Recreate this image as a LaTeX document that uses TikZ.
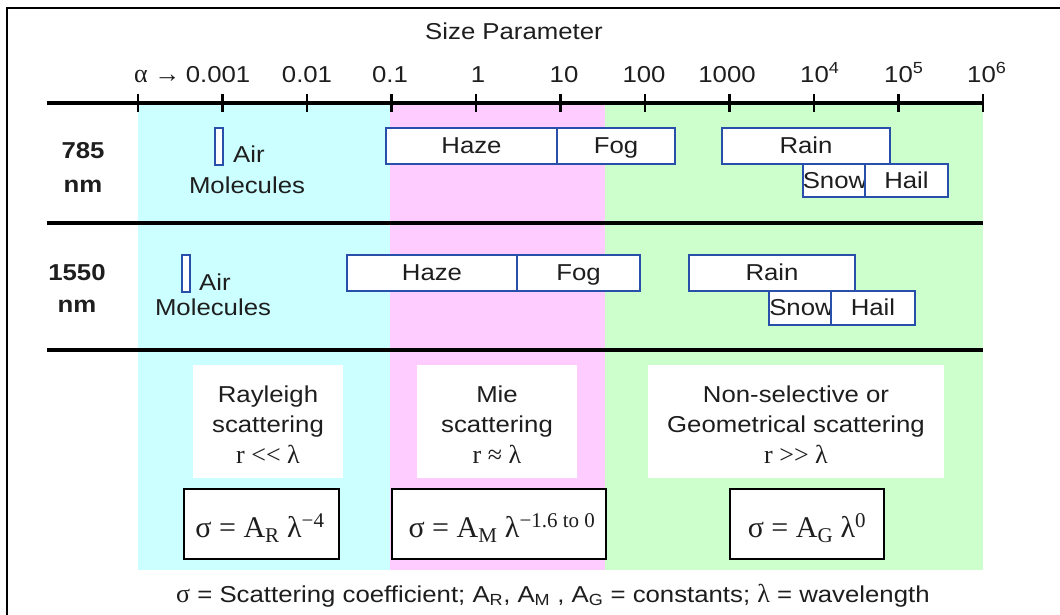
\documentclass[tikz,border=0pt]{standalone}
\usepackage{fontspec}
\usetikzlibrary{calc}
\setmainfont{Liberation Sans}[FakeStretch=1.12]
\newfontfamily\serifont{Liberation Serif}
\definecolor{cyanbg}{RGB}{204,255,255}
\definecolor{pinkbg}{RGB}{255,204,255}
\definecolor{greenbg}{RGB}{204,255,204}
\definecolor{boxblue}{RGB}{40,80,170}
\definecolor{txtgray}{RGB}{30,30,30}
\newcommand{\fsz}{\fontsize{23}{28}\selectfont}
\newcommand{\fsr}{\fontsize{26}{30}\selectfont\serifont}
\newcommand{\fml}{\fontsize{30}{34}\selectfont\serifont}
\begin{document}
\begin{tikzpicture}[x=1pt,y=-1pt,
  lbl/.style={font=\fsz, text=txtgray, inner sep=0pt, anchor=base},
  serlbl/.style={font=\fsr, text=txtgray, inner sep=0pt, anchor=base},
  rowlbl/.style={font=\fsz\bfseries, text=txtgray, inner sep=0pt, anchor=base},
  bandbox/.style={draw=boxblue, line width=1.8pt, fill=white, inner sep=0pt,
    font=\fsz, text=txtgray, text height=15pt, text depth=0pt},
  txtbox/.style={fill=white, inner sep=0pt},
  formbox/.style={draw=black, line width=2.2pt, fill=white, inner sep=0pt},
  formtxt/.style={font=\fml, text=txtgray, inner sep=0pt, anchor=base},
  axisline/.style={line width=4.5pt},
  sepline/.style={line width=4pt},
  tickmark/.style={line width=2.4pt}
]
\useasboundingbox (0,0) rectangle (1060,615);
\fill[white] (0,0) rectangle (1060,615);

% frame (left and top edges visible)
\draw[line width=2.2pt] (7,615) -- (7,8) -- (1060,8);

% coloured regime bands
\fill[cyanbg]  (138,103) rectangle (390,570);
\fill[pinkbg]  (390,103) rectangle (605,570);
\fill[greenbg] (605,103) rectangle (983,570);

% title
\node[lbl] (title) at (514,40) {Size Parameter};

% axis
\coordinate (ax0) at (47,103);
\coordinate (ax1) at (983,103);
\draw[axisline] (ax0) -- (ax1);
\foreach \i in {0,...,10} {
  \coordinate (t\i) at ({138+84.5*\i},103);
  \draw[tickmark] ($(t\i)+(0,-9)$) -- ($(t\i)+(0,9)$);
}

% tick labels
\node[lbl] (l3) at (218,83) {0.001};
\node[serlbl, anchor=base east] (alpha) at ([xshift=-5pt]l3.base west) {α →};
\node[lbl] (l2) at (307,83) {0.01};
\node[lbl] (l1) at (390,83) {0.1};
\node[lbl] (l0) at (478,83) {1};
\node[lbl] (p1) at (564,83) {10};
\node[lbl] (p2) at (644,83) {100};
\node[lbl] (p3) at (727,83) {1000};
\node[lbl, anchor=base west] (p4) at (800,83) {10\textsuperscript{4}};
\node[lbl, anchor=base west] (p5) at (884,83) {10\textsuperscript{5}};
\node[lbl, anchor=base west] (p6) at (967,83) {10\textsuperscript{6}};

% separators
\coordinate (s1a) at (47,223);  \coordinate (s1b) at (983,223);
\coordinate (s2a) at (47,350);  \coordinate (s2b) at (983,350);
\draw[sepline] (s1a) -- (s1b);
\draw[sepline] (s2a) -- (s2b);

% ---------- row 785 nm ----------
\node[rowlbl] (r1a) at (83,158) {785};
\node[rowlbl] (r1b) at (83,192) {nm};
\node[bandbox, minimum width=8pt, minimum height=37pt] (air1) at (219,146.5) {};
\node[lbl, anchor=base west] (air1t) at (233,163) {Air};
\node[lbl] (mol1) at (247,193) {Molecules};
\node[bandbox, minimum width=171pt, minimum height=36pt] (haze1) at (471.5,146) {Haze};
\node[bandbox, minimum width=118pt, minimum height=36pt] (fog1) at (616,146) {Fog};
\node[bandbox, minimum width=168pt, minimum height=36pt] (rain1) at (806,146) {Rain};
\node[bandbox, minimum width=60pt, minimum height=33pt] (snow1) at (835,180.5) {Snow};
\node[bandbox, minimum width=83pt, minimum height=33pt] (hail1) at (906.5,180.5) {Hail};

% ---------- row 1550 nm ----------
\node[rowlbl] (r2a) at (77,280) {1550};
\node[rowlbl] (r2b) at (77,312) {nm};
\node[bandbox, minimum width=8pt, minimum height=37pt] (air2) at (186,273.5) {};
\node[lbl, anchor=base west] (air2t) at (199,290) {Air};
\node[lbl] (mol2) at (213,315) {Molecules};
\node[bandbox, minimum width=170pt, minimum height=36pt] (haze2) at (432,273) {Haze};
\node[bandbox, minimum width=123pt, minimum height=36pt] (fog2) at (578.5,273) {Fog};
\node[bandbox, minimum width=166pt, minimum height=36pt] (rain2) at (772,273) {Rain};
\node[bandbox, minimum width=59pt, minimum height=34pt] (snow2) at (801.5,308) {Snow};
\node[bandbox, minimum width=84pt, minimum height=34pt] (hail2) at (873,308) {Hail};

% ---------- scattering regimes ----------
\node[txtbox, minimum width=150pt, minimum height=113pt] (rayb) at (268,421.5) {};
\node[lbl] (ray1) at (268,402) {Rayleigh};
\node[lbl] (ray2) at (268,432) {scattering};
\node[serlbl] (ray3) at (268,463) {r << λ};

\node[txtbox, minimum width=160pt, minimum height=113pt] (mieb) at (497,421.5) {};
\node[lbl] (mie1) at (497,402) {Mie};
\node[lbl] (mie2) at (497,432) {scattering};
\node[serlbl] (mie3) at (497,463) {r ≈ λ};

\node[txtbox, minimum width=296pt, minimum height=113pt] (geob) at (796,421.5) {};
\node[lbl] (geo1) at (796,402) {Non-selective or};
\node[lbl] (geo2) at (796,432) {Geometrical scattering};
\node[serlbl] (geo3) at (796,463) {r >> λ};

% formulas
\node[formbox, minimum width=155pt, minimum height=70pt] (fr) at (261.5,524) {};
\node[formtxt] (frt) at (260,537) {σ = A\textsubscript{R} λ\textsuperscript{−4}};
\node[formbox, minimum width=214pt, minimum height=70pt] (fm) at (499,524) {};
\node[formtxt] (fmt) at (502,537) {σ = A\textsubscript{M} λ\textsuperscript{−1.6 to 0}};
\node[formbox, minimum width=154pt, minimum height=70pt] (fg) at (807,524) {};
\node[formtxt] (fgt) at (807,537) {σ = A\textsubscript{G} λ\textsuperscript{0}};

% caption
\node[lbl, anchor=base west] (cap) at (176,602) {{\fsr σ} = Scattering coefficient; A\textsubscript{R}, A\textsubscript{M} , A\textsubscript{G} = constants; {\fsr λ} = wavelength};
\end{tikzpicture}
\end{document}
